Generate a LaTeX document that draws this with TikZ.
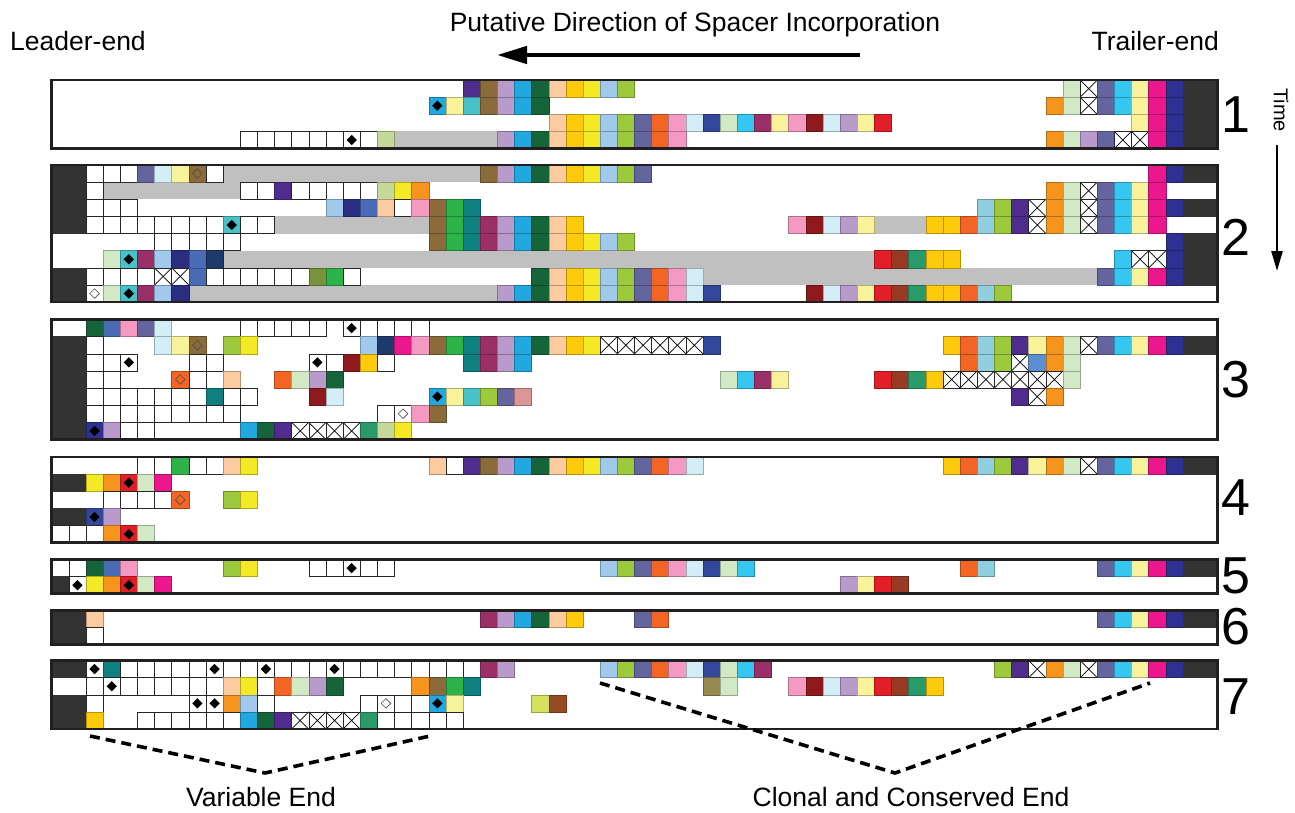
\documentclass[tikz,border=0pt]{standalone}
\usepackage{fontspec}
\setmainfont{Liberation Sans}
\usetikzlibrary{arrows.meta}
\definecolor{cGr}{HTML}{C0C0C0}
\definecolor{cFr}{HTML}{231F20}
\tikzset{
  cell/.style={line width=0.5pt},
  kW/.style={cell,fill=white,draw=black!85},
  kN/.style={},
  kX/.style={kW,path picture={\draw[black,line width=0.7pt]
     (path picture bounding box.north west)--(path picture bounding box.south east)
     (path picture bounding box.south west)--(path picture bounding box.north east);}},
  frame/.style={draw=cFr,line width=2.6pt},
  lbl/.style={font=\fontsize{26.5}{30}\selectfont,inner sep=0pt},
  num/.style={font=\fontsize{52}{56}\selectfont,inner sep=0pt},
  dashline/.style={line width=3.6pt,dash pattern=on 10pt off 6pt},
}
\newcommand\mkcell[2]{\definecolor{c#1}{HTML}{#2}\tikzset{k#1/.style={cell,fill=c#1,draw=c#1!72!black}}}
\mkcell{Dp}{4F2D8F}\mkcell{Br}{8B6B3A}\mkcell{Lv}{B89BCB}\mkcell{Bl}{20A8DF}
\mkcell{Dg}{16653A}\mkcell{Pc}{FDCBA0}\mkcell{Gd}{FDCB0B}\mkcell{Ye}{F4E925}
\mkcell{Lb}{A0C9EB}\mkcell{Lm}{9DC93C}\mkcell{Sl}{64649E}\mkcell{Or}{F26524}
\mkcell{Pk}{F49AC2}\mkcell{Pb}{D4EEF8}\mkcell{Rb}{33489D}\mkcell{Pg}{D2E9C6}
\mkcell{Sk}{35C6F2}\mkcell{Mr}{9B2F67}\mkcell{Py}{F8F39B}\mkcell{Dr}{8E1A1E}
\mkcell{Rd}{E11F27}\mkcell{Brr}{983A24}\mkcell{Gt}{2A9A6B}\mkcell{Lt}{8FCFE0}
\mkcell{Am}{F7941E}\mkcell{Mg}{EC168D}\mkcell{Nv}{2E3192}\mkcell{Tq}{47C2C8}
\mkcell{Tl}{0E8080}\mkcell{Gn}{2DB34A}\mkcell{Mb}{4A6CB5}\mkcell{Nd}{2B2E80}
\mkcell{Nn}{1C3A6B}\mkcell{Ol}{C5D99B}\mkcell{Do}{7A923B}\mkcell{Dpk}{DC9696}
\mkcell{Bm}{5B8FD0}\mkcell{Oc}{968A50}\mkcell{Yl}{D4E15C}\mkcell{Rs}{974B22}
\definecolor{cDk}{HTML}{333333}
\tikzset{kDk/.style={fill=cDk,draw=cDk,line width=0.5pt}}
\newcommand\R[3]{\foreach \cellnm [count=\cellix from 0] in {#3} {\path[\cellnm] ({#1+\cellix},#2) rectangle ++(1,1);}}
\newcommand\G[3]{\fill[cGr] (#1,#3) rectangle ({#2+1},{#3+1});}
\newcommand\Dm[2]{\fill[black] ({#1+0.5},{#2+0.2}) -- ({#1+0.8},{#2+0.5}) -- ({#1+0.5},{#2+0.8}) -- ({#1+0.2},{#2+0.5}) -- cycle;}
\newcommand\Hd[2]{\draw[black!70,line width=0.6pt] ({#1+0.5},{#2+0.22}) -- ({#1+0.78},{#2+0.5}) -- ({#1+0.5},{#2+0.78}) -- ({#1+0.22},{#2+0.5}) -- cycle;}
\begin{document}
\begin{tikzpicture}[x=1pt,y=-1pt]
\fill[white] (0,0) rectangle (1295,812);
\useasboundingbox (0,0) rectangle (1295,812);
% ---------- panel 1
\begin{scope}[xshift=51.7pt,yshift=-80pt,x=17.14pt,y=-17.14pt]
\G{20}{25}{3}
\R{24}{0}{kDp,kBr,kLv,kBl,kDg,kPc,kGd,kYe,kLb,kLm}
\R{59}{0}{kPg,kX,kSl,kSk,kPy,kMg,kNv,kDk,kDk}
\R{22}{1}{kBl,kPy,kTq,kBr,kLv,kBl,kDg}\Dm{22}{1}
\R{58}{1}{kAm,kPg,kX,kSl,kSk,kPy,kMg,kNv,kDk,kDk}
\R{29}{2}{kPc,kGd,kYe,kLb,kLm,kSl,kOr,kPk,kPb,kRb,kPg,kSk,kMr,kPy,kPk,kDr,kPb,kLv,kPy,kRd}
\R{63}{2}{kPy,kMg,kNv,kDk,kDk}
\R{11}{3}{kW,kW,kW,kW,kW,kW,kW,kW,kOl}\Dm{17}{3}
\R{26}{3}{kLv,kBl,kDg,kPc,kGd,kYe,kLb,kLm,kSl,kOr,kPk}
\R{58}{3}{kAm,kPg,kLv,kSl,kX,kX,kMg,kNv,kDk,kDk}
\draw[frame] (0,0) rectangle (68,4);
\end{scope}
% ---------- panel 2
\begin{scope}[xshift=51.7pt,yshift=-165pt,x=17.14pt,y=-17.14pt]
\G{10}{24}{0}\G{3}{10}{1}\G{13}{21}{3}\G{48}{50}{3}\G{10}{47}{5}\G{38}{60}{6}\G{8}{25}{7}
\R{0}{0}{kDk,kDk,kW,kW,kW,kSl,kPb,kPy,kBr,kW}\Hd{8}{0}
\R{25}{0}{kBr,kLv,kBl,kDg,kPc,kGd,kYe,kLb,kLm,kSl}
\R{64}{0}{kMg,kNv,kDk,kDk}
\R{0}{1}{kDk,kDk,kW}
\R{11}{1}{kW,kW,kDp,kW,kW,kW,kW,kW,kOl,kYe,kAm}
\R{58}{1}{kAm,kPg,kX,kSl,kSk,kPy,kMg}
\R{0}{2}{kDk,kDk,kW,kW,kW}
\R{16}{2}{kLb,kNd,kMb,kPc,kW,kPk,kBr,kGn,kTl}
\R{54}{2}{kLt,kLm,kDp,kX,kAm,kPg,kX,kSl,kSk,kPy,kMg,kNv,kDk,kDk}
\R{0}{3}{kDk,kDk,kW,kW,kW,kW,kW,kW,kW,kW,kTq,kW,kW}\Dm{10}{3}
\R{22}{3}{kBr,kGn,kTl,kMr,kLv,kBl,kDg,kPc,kGd}
\R{43}{3}{kPk,kDr,kPb,kLv,kPy}
\R{51}{3}{kGd,kGd,kOr,kLt,kLm,kDp,kX,kAm,kPg,kX,kSl,kSk,kPy,kMg}
\R{6}{4}{kW,kW,kW,kW,kW}
\R{22}{4}{kBr,kGn,kTl,kMr,kLv,kBl,kDg,kPc,kGd,kYe,kLb,kLm}
\R{65}{4}{kNv,kDk,kDk}
\R{3}{5}{kPg,kTq,kMr,kLb,kNd,kMb,kNn}\Dm{4}{5}
\R{48}{5}{kRd,kBrr,kGt,kGd,kGd}
\R{62}{5}{kSk,kX,kX,kNv,kDk,kDk}
\R{0}{6}{kDk,kDk,kW,kW,kW,kW,kX,kX,kMb,kW,kW,kW,kW,kW,kW,kDo,kGn,kW}
\R{28}{6}{kDg,kPc,kGd,kYe,kLb,kLm,kSl,kOr,kPk,kPb}
\R{61}{6}{kSl,kSk,kPy,kMg,kNv,kDk,kDk}
\R{0}{7}{kDk,kDk,kW,kPg,kTq,kMr,kLb,kNd}\Hd{2}{7}\Dm{4}{7}
\R{26}{7}{kLv,kBl,kDg,kPc,kGd,kYe,kLb,kLm,kSl,kOr,kPk,kPb,kRb}
\R{44}{7}{kDr,kPb,kLv,kPy,kRd,kBrr,kGt,kGd,kGd,kOr,kLt,kLm}
\draw[frame] (0,0) rectangle (68,8);
\end{scope}
% ---------- panel 3
\begin{scope}[xshift=51.7pt,yshift=-319.5pt,x=17.14pt,y=-17.14pt]
\R{2}{0}{kDg,kMb,kPk,kSl,kPb}
\R{11}{0}{kW,kW,kW,kW,kW,kN,kW,kW,kW,kW,kW}\Dm{17}{0}
\R{0}{1}{kDk,kDk,kW}
\R{6}{1}{kPb,kPy,kBr}\Hd{8}{1}
\R{10}{1}{kLm,kYe}
\R{18}{1}{kLb,kNn,kMg,kPk,kBr,kGn,kTl,kMr,kLv,kBl,kDg,kPc,kGd,kYe,kX,kX,kX,kX,kX,kX,kRb}
\R{52}{1}{kGd,kOr,kLt,kLm,kDp,kPy,kAm,kPg,kX,kSl,kSk,kPy,kMg,kNv,kDk,kDk}
\R{0}{2}{kDk,kDk,kW,kW,kW}\Dm{4}{2}
\R{8}{2}{kW,kW}
\R{15}{2}{kW,kW,kDr,kGd,kW}\Dm{15}{2}
\R{24}{2}{kTl,kMr,kLv,kBl}
\R{53}{2}{kOr,kLt,kLm,kX,kBm,kAm,kPg}
\R{0}{3}{kDk,kDk,kW,kW}
\R{7}{3}{kOr,kW,kW,kPc}\Hd{7}{3}
\R{13}{3}{kOr,kPg,kLv,kDg}
\R{39}{3}{kPg,kSk,kMr,kPy}
\R{48}{3}{kRd,kBrr,kGt,kGd,kX,kX,kX,kX,kX,kX,kX,kPg}
\R{0}{4}{kDk,kDk,kW,kW,kW,kW,kW,kW,kW,kTl,kW,kW}
\R{15}{4}{kDr,kPb}
\R{22}{4}{kBl,kPy,kTq,kLm,kSl,kDpk}\Dm{22}{4}
\R{56}{4}{kDp,kX,kAm}
\R{0}{5}{kDk,kDk,kW,kW,kW,kW,kW,kW,kW,kW,kW}
\R{19}{5}{kW,kW,kPk,kBr}\Hd{20}{5}
\R{0}{6}{kDk,kDk,kNv,kLv,kW,kW}\Dm{2}{6}
\R{11}{6}{kBl,kDg,kDp,kX,kX,kX,kX,kGt,kOl,kYe}
\draw[frame] (0,0) rectangle (68,7);
\end{scope}
% ---------- panel 4
\begin{scope}[xshift=51.7pt,yshift=-457pt,x=17.14pt,y=-17.14pt]
\R{5}{0}{kW,kW,kGn,kW,kW,kPc,kYe}
\R{22}{0}{kPc,kW,kDp,kBr,kLv,kBl,kDg,kPc,kGd,kYe,kLb,kLm,kSl,kOr,kPk,kPb}
\R{52}{0}{kGd,kOr,kLt,kLm,kDp,kPy,kAm,kPg,kX,kSl,kSk,kPy,kMg,kNv,kDk,kDk}
\R{0}{1}{kDk,kDk,kYe,kAm,kRd,kPg,kMg}\Dm{4}{1}
\R{3}{2}{kW,kW,kW,kW,kOr}\Hd{7}{2}
\R{10}{2}{kLm,kYe}
\R{0}{3}{kDk,kDk,kRb,kLv}\Dm{2}{3}
\R{0}{4}{kW,kW,kW,kAm,kRd,kPg}\Dm{4}{4}
\draw[frame] (0,0) rectangle (68,5);
\end{scope}
% ---------- panel 5
\begin{scope}[xshift=51.7pt,yshift=-559.5pt,x=17.14pt,y=-17.14pt]
\R{0}{0}{kW,kW,kDg,kMb,kPk}
\R{10}{0}{kLm,kYe}
\R{15}{0}{kW,kW,kW,kW,kW}\Dm{17}{0}
\R{32}{0}{kLb,kLm,kSl,kOr,kPk,kPb,kRb,kPg,kSk}
\R{53}{0}{kOr,kLt}
\R{61}{0}{kSl,kSk,kPy,kMg,kNv,kDk,kDk}
\R{0}{1}{kDk,kW,kYe,kAm,kRd,kPg,kMg}\Dm{1}{1}\Dm{4}{1}
\R{46}{1}{kLv,kPy,kRd,kBrr}
\draw[frame] (0,0) rectangle (68,2);
\end{scope}
% ---------- panel 6
\begin{scope}[xshift=51.7pt,yshift=-610.5pt,x=17.14pt,y=-17.14pt]
\R{0}{0}{kDk,kDk,kPc}
\R{25}{0}{kMr,kLv,kBl,kDg,kPc,kGd}
\R{34}{0}{kSl,kOr}
\R{61}{0}{kSl,kSk,kPy,kMg,kNv,kDk,kDk}
\R{0}{1}{kDk,kDk,kW}
\draw[frame] (0,0) rectangle (68,2);
\end{scope}
% ---------- panel 7
\begin{scope}[xshift=51.7pt,yshift=-660.5pt,x=17.14pt,y=-17.14pt]
\R{0}{0}{kDk,kDk,kW,kTl,kW,kW,kW,kW,kW,kW,kW,kW,kW,kW,kW,kW,kW,kW,kW,kW,kW,kW,kW,kW,kW,kMr,kLv}
\Dm{2}{0}\Dm{9}{0}\Dm{12}{0}\Dm{16}{0}
\R{32}{0}{kLb,kLm,kSl,kOr,kPk,kPb,kRb,kPg,kSk,kMr}
\R{55}{0}{kLm,kDp,kX,kAm,kPg,kX,kSl,kSk,kPy,kMg,kNv,kDk,kDk}
\R{2}{1}{kW,kW,kW,kW,kW,kW,kW,kW,kPc,kYe,kW,kOr,kPg,kLv,kDg}\Dm{3}{1}
\R{21}{1}{kAm,kBr,kGn,kTl}
\R{38}{1}{kOc,kPg}
\R{43}{1}{kPk,kDr,kPb,kLv,kPy,kRd,kBrr,kGt,kGd}
\R{0}{2}{kDk,kDk,kW}
\R{8}{2}{kW,kW,kAm,kLb,kW}\Dm{8}{2}\Dm{9}{2}
\R{18}{2}{kW,kW,kW,kW,kBl,kPy}\Hd{19}{2}\Dm{22}{2}
\R{28}{2}{kYl,kRs}
\R{0}{3}{kDk,kDk,kGd}
\R{5}{3}{kW,kW,kW,kW,kW,kW,kBl,kDg,kDp,kX,kX,kX,kX,kGt,kW,kW,kW,kW,kW}
\draw[frame] (0,0) rectangle (68,4);
\end{scope}
% ---------- labels
\node[lbl,anchor=base] (title) at (695,31) {Putative Direction of Spacer Incorporation};
\coordinate (arrS) at (860,55);
\coordinate (arrE) at (497,55);
\draw[line width=4.5pt,-{Triangle[length=30pt,width=17pt]}] (arrS) -- (arrE);
\node[lbl,anchor=base west] (leader) at (10,50) {Leader-end};
\node[lbl,anchor=base east] (trailer) at (1219,50) {Trailer-end};
\node[font=\fontsize{20}{24}\selectfont,rotate=-90,inner sep=0pt] (time) at (1281,110) {Time};
\coordinate (tS) at (1277,145);
\coordinate (tE) at (1277,271);
\draw[line width=2.4pt,-{Triangle[length=20pt,width=11pt]}] (tS) -- (tE);
\node[num] (n1) at (1236,115) {1};
\node[num] (n2) at (1236,237) {2};
\node[num] (n3) at (1236,380) {3};
\node[num] (n4) at (1236,498) {4};
\node[num] (n5) at (1236,576) {5};
\node[num] (n6) at (1236,627) {6};
\node[num] (n7) at (1236,697) {7};
\coordinate (vA) at (90,736);
\coordinate (vB) at (265,773);
\coordinate (vC) at (430,736);
\coordinate (cA) at (600,683);
\coordinate (cB) at (895,773);
\coordinate (cC) at (1150,683);
\draw[dashline] (vA) -- (vB) -- (vC);
\draw[dashline] (cA) -- (cB) -- (cC);
\node[lbl,anchor=base] (varend) at (261,806) {Variable End};
\node[lbl,anchor=base] (clonal) at (911,806) {Clonal and Conserved End};
\end{tikzpicture}
\end{document}
